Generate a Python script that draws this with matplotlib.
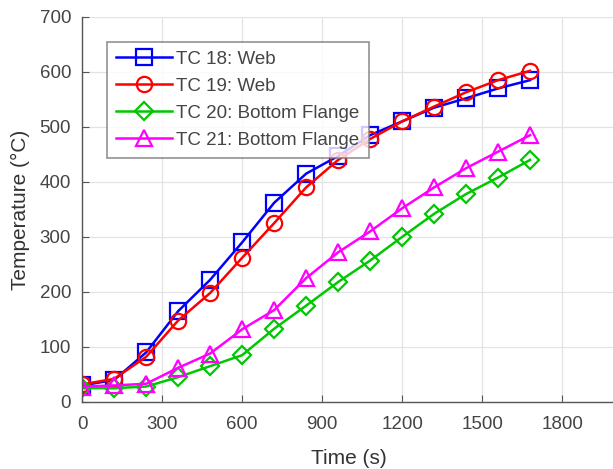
import matplotlib
matplotlib.use("Agg")
import matplotlib.pyplot as plt

plt.rcParams["font.family"] = ["Liberation Sans", "DejaVu Sans"]

time_s = [0, 120, 240, 360, 480, 600, 720, 840, 960, 1080, 1200, 1320, 1440, 1560, 1680]
tc18_web = [30, 40, 90, 165, 222, 290, 362, 415, 447, 485, 510, 535, 552, 570, 585]
tc19_web = [32, 42, 82, 148, 198, 262, 325, 390, 440, 478, 510, 537, 563, 585, 602]
tc20_flange = [25, 25, 28, 45, 65, 85, 133, 175, 218, 257, 300, 342, 378, 408, 440]
tc21_flange = [28, 30, 33, 62, 88, 132, 167, 225, 272, 310, 352, 390, 425, 455, 485]

series = [
    ("TC 18: Web", tc18_web, "#0000ff", "s"),
    ("TC 19: Web", tc19_web, "#ff0000", "o"),
    ("TC 20: Bottom Flange", tc20_flange, "#00c800", "D"),
    ("TC 21: Bottom Flange", tc21_flange, "#ff00ff", "^"),
]

fig = plt.figure(figsize=(6.13, 4.69), dpi=100)
ax = fig.add_axes([0.134, 0.143, 0.870, 0.821])

for label, temps, color, marker in series:
    ms = 9 if marker == "D" else 11
    ax.plot(time_s, temps, color=color, marker=marker, markersize=ms,
            markerfacecolor="none", markeredgewidth=1.6, linewidth=1.8, label=label)

ax.set_xlim(0, 2000)
ax.set_ylim(0, 700)
ax.set_xticks(range(0, 2000, 300))
ax.set_yticks(range(0, 701, 100))
ax.grid(True, color="#e3e3e3", linewidth=0.9)
ax.set_axisbelow(True)

for side in ("top", "right"):
    ax.spines[side].set_visible(False)
for side in ("left", "bottom"):
    ax.spines[side].set_color("#555555")
    ax.spines[side].set_linewidth(1.0)

ax.tick_params(direction="in", length=5, colors="#555555", labelcolor="#444444",
               labelsize=13.5)
ax.tick_params(axis="x", pad=10)
ax.tick_params(axis="y", pad=8)
ax.set_xlabel("Time (s)", fontsize=15, color="#333333", labelpad=12)
ax.set_ylabel("Temperature (\u00b0C)", fontsize=15, color="#333333", labelpad=7)

leg = ax.legend(loc="upper left", bbox_to_anchor=(0.046, 0.936), fontsize=13.5,
                frameon=True, fancybox=False, borderpad=0.5, labelspacing=0.52,
                handlelength=3.0, handletextpad=0.2, borderaxespad=0)
leg.get_frame().set_edgecolor("#777777")
leg.get_frame().set_linewidth(1.2)
for t in leg.get_texts():
    t.set_color("#444444")

fig.savefig("out.png", dpi=100)
